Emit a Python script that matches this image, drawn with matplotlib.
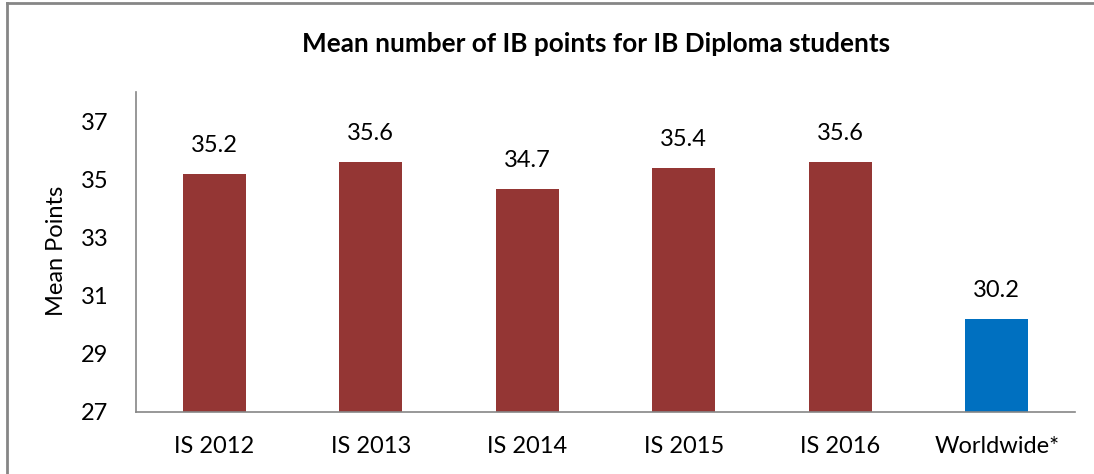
import matplotlib
matplotlib.use("Agg")
import matplotlib.pyplot as plt
from matplotlib.lines import Line2D

# chart data
categories = ["IS 2012", "IS 2013", "IS 2014", "IS 2015", "IS 2016", "Worldwide*"]
mean_points = [35.2, 35.6, 34.7, 35.4, 35.6, 30.2]
value_labels = ["35.2", "35.6", "34.7", "35.4", "35.6", "30.2"]
y_ticks = [27, 29, 31, 33, 35, 37]

RED = "#943634"
BLUE = "#0070C0"
GREY = "#868686"

plt.rcParams['font.family'] = ['Lato', 'DejaVu Sans']

W, H = 1094, 474
fig = plt.figure(figsize=(W / 100, H / 100), dpi=100)
ax = fig.add_axes([136 / W, 1 - 412 / H, (1075 - 136) / W, (412 - 92) / H])

colors = [RED] * 5 + [BLUE]
x = range(len(categories))
bars = ax.bar(x, mean_points, width=0.4, color=colors, bottom=0)

ax.set_ylim(27, 38.03)
ax.set_xlim(-0.5, len(categories) - 0.5)
ax.set_yticks(y_ticks)
ax.set_xticks(list(x))
ax.set_xticklabels(categories)

for s in ["top", "right"]:
    ax.spines[s].set_visible(False)
for s in ["left", "bottom"]:
    ax.spines[s].set_color(GREY)
    ax.spines[s].set_linewidth(1.2)

ax.tick_params(axis="y", length=0, pad=20, labelsize=17, colors="black")
ax.tick_params(axis="x", length=0, pad=17, labelsize=17, colors="black")

for xi, val, lab in zip(x, mean_points, value_labels):
    ax.annotate(lab, (xi, val), xytext=(0, 13), textcoords="offset points",
                ha="center", va="bottom", fontsize=17)

ax.set_ylabel("Mean Points", fontsize=17)
ax.yaxis.set_label_coords(-0.0735, 0.505)

fig.text(596 / W, 1 - 44 / H, "Mean number of IB points for IB Diploma students",
         ha="center", va="center", fontsize=18.8, fontweight="bold")

# outer chart border (cropped on right and bottom)
fig.add_artist(Line2D([7 / W, 7 / W], [0, 1 - 3 / H], color=GREY, lw=2,
                      transform=fig.transFigure))
fig.add_artist(Line2D([7 / W, 1], [1 - 3 / H, 1 - 3 / H], color=GREY, lw=2,
                      transform=fig.transFigure))

fig.savefig("out.png", dpi=100)
